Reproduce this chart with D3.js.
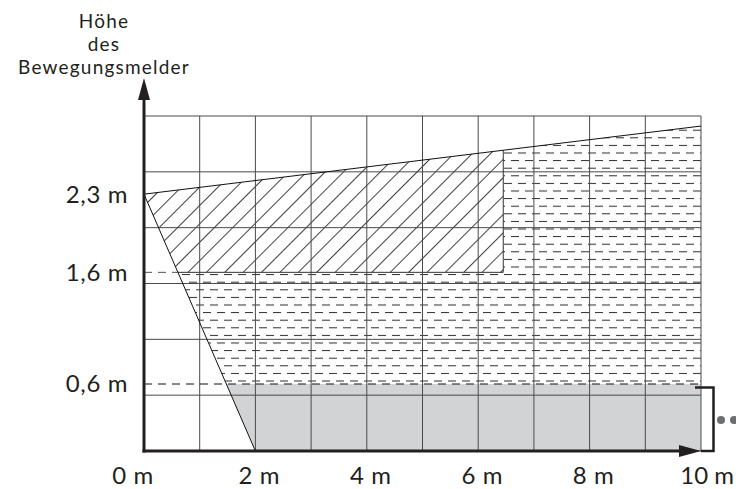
<!DOCTYPE html>
<html><head><meta charset="utf-8">
<script src="https://cdn.jsdelivr.net/npm/d3@7"></script>
<style>
body{margin:0;background:#fff}
text{font-family:Lato,"Open Sans",sans-serif;fill:#231f20}
</style>
</head><body><svg id="c" width="736" height="489"></svg>
<script>
// ---- data ----
const xTicks = [0, 2, 4, 6, 8, 10];
const xTickLabels = ["0 m", "2 m", "4 m", "6 m", "8 m", "10 m"];
const yTicks = [0.6, 1.6, 2.3];
const yTickLabels = ["0,6 m", "1,6 m", "2,3 m"];
const gridX = [0, 1, 2, 3, 4, 5, 6, 7, 8, 9, 10];
const gridY = [0, 0.5, 1, 1.5, 2, 2.5, 3];
const topEdge = [[0, 2.3], [10, 2.91]];   // upper limit of detection
const nearEdge = [[0, 2.3], [2, 0]];      // lower/near limit
const hatchRight = 6.45;                   // right edge of hatched zone (m)
const lowLevel = 0.6;                      // grey zone upper limit
const midLevel = 1.6;                      // hatched zone lower limit
const titleLines = ["Höhe", "des", "Bewegungsmelder"];

// ---- scales ----
const x = d3.scaleLinear().domain([0, 10]).range([144, 701]);
const y = d3.scaleLinear().domain([0, 3]).range([451, 116]);
const topAt = xv => topEdge[0][1] + (topEdge[1][1] - topEdge[0][1]) * (xv - topEdge[0][0]) / (topEdge[1][0] - topEdge[0][0]);
const nearAt = yv => nearEdge[0][0] + (nearEdge[1][0] - nearEdge[0][0]) * (yv - nearEdge[0][1]) / (nearEdge[1][1] - nearEdge[0][1]);

const svg = d3.select("#c");
const defs = svg.append("defs");

// hatch pattern
const hp = defs.append("pattern").attr("id", "hatch").attr("patternUnits", "userSpaceOnUse")
  .attr("width", 13).attr("height", 13).attr("patternTransform", "rotate(45)");
hp.append("line").attr("x1", 0.5).attr("y1", 0).attr("x2", 0.5).attr("y2", 13)
  .attr("stroke", "#2b2b2b").attr("stroke-width", 0.9);

// dash pattern
const rowGap = 7.6;
const dp = defs.append("pattern").attr("id", "dash").attr("patternUnits", "userSpaceOnUse")
  .attr("width", 14).attr("height", rowGap * 2).attr("x", 0).attr("y", y(lowLevel) - 3.5);
dp.append("rect").attr("x", 0).attr("y", 0).attr("width", 8).attr("height", 1).attr("fill", "#2b2b2b");
dp.append("rect").attr("x", 7).attr("y", rowGap).attr("width", 8).attr("height", 1).attr("fill", "#2b2b2b");
dp.append("rect").attr("x", -7).attr("y", rowGap).attr("width", 8).attr("height", 1).attr("fill", "#2b2b2b");

const line = d3.line().x(d => x(d[0])).y(d => y(d[1]));
const poly = pts => line(pts) + "Z";

// zones
const greyZone = [[nearAt(lowLevel), lowLevel], [10, lowLevel], [10, 0], [nearEdge[1][0], 0]];
const dashZone = [[nearAt(midLevel), midLevel], [hatchRight, midLevel], [hatchRight, topAt(hatchRight)],
  [10, topAt(10)], [10, lowLevel], [nearAt(lowLevel), lowLevel]];
const hatchZone = [[0, topAt(0)], [hatchRight, topAt(hatchRight)], [hatchRight, midLevel], [nearAt(midLevel), midLevel]];

svg.append("path").attr("d", poly(greyZone)).attr("fill", "#d1d3d4");
svg.append("path").attr("d", poly(dashZone)).attr("fill", "url(#dash)");
svg.append("path").attr("d", poly(hatchZone)).attr("fill", "url(#hatch)");

// grid
svg.append("g").selectAll("line").data(gridX).join("line")
  .attr("x1", d => x(d)).attr("x2", d => x(d)).attr("y1", y(3)).attr("y2", y(0))
  .attr("stroke", "#4a4a4a").attr("stroke-width", 1);
svg.append("g").selectAll("line").data(gridY).join("line")
  .attr("x1", x(0)).attr("x2", x(10)).attr("y1", d => y(d)).attr("y2", d => y(d))
  .attr("stroke", "#4a4a4a").attr("stroke-width", 1);

// level lines
svg.append("line").attr("x1", x(0)).attr("x2", x(10)).attr("y1", y(lowLevel)).attr("y2", y(lowLevel))
  .attr("stroke", "#111").attr("stroke-width", 1).attr("stroke-dasharray", "8,6");
svg.append("line").attr("x1", x(0)).attr("x2", x(nearAt(midLevel))).attr("y1", y(midLevel)).attr("y2", y(midLevel))
  .attr("stroke", "#555").attr("stroke-width", 1).attr("stroke-dasharray", "8,6");
svg.append("path").attr("d", line([[nearAt(midLevel), midLevel], [hatchRight, midLevel], [hatchRight, topAt(hatchRight)]]))
  .attr("fill", "none").attr("stroke", "#333").attr("stroke-width", 1);

// edges
svg.append("path").attr("d", line(topEdge)).attr("fill", "none").attr("stroke", "#111").attr("stroke-width", 1);
svg.append("path").attr("d", line(nearEdge)).attr("fill", "none").attr("stroke", "#111").attr("stroke-width", 1);

// axes
const axCol = "#231f20";
svg.append("line").attr("x1", x(0)).attr("x2", x(0)).attr("y1", y(0) + 1.5).attr("y2", 96)
  .attr("stroke", axCol).attr("stroke-width", 3);
svg.append("line").attr("x1", x(0) - 1.5).attr("x2", x(10) - 18).attr("y1", y(0)).attr("y2", y(0))
  .attr("stroke", axCol).attr("stroke-width", 3);
svg.append("path").attr("d", `M${x(0)},78 L${x(0) + 6},100 L${x(0) - 6},100Z`).attr("fill", axCol);
svg.append("path").attr("d", `M${x(10)},${y(0)} L${x(10) - 22},${y(0) - 6} L${x(10) - 22},${y(0) + 6}Z`).attr("fill", axCol);

// bracket
svg.append("path").attr("d", `M${x(10) - 6},${y(lowLevel) + 3.5} H${x(10) + 12.5} V${y(0)} H${x(10)}`)
  .attr("fill", "none").attr("stroke", axCol).attr("stroke-width", 2.5);
svg.append("g").selectAll("circle").data([0, 1]).join("circle")
  .attr("cx", d => x(10) + 20 + d * 13).attr("cy", 420).attr("r", 4).attr("fill", "#6d6e70");

// labels
svg.append("g").selectAll("text").data(xTicks).join("text")
  .attr("x", d => d === 10 ? 734 : x(d) + (d === 0 ? -11 : 4)).attr("y", 484)
  .attr("text-anchor", d => d === 10 ? "end" : "middle")
  .attr("font-size", 24).attr("letter-spacing", d => d === 10 ? 0 : 0.6)
  .text((d, i) => xTickLabels[i]);
svg.append("g").selectAll("text").data(yTicks).join("text")
  .attr("x", 128).attr("y", d => y(d)).attr("dy", "0.35em")
  .attr("text-anchor", "end").attr("font-size", 24).attr("letter-spacing", 0.6)
  .text((d, i) => yTickLabels[i]);
svg.append("g").selectAll("text").data(titleLines).join("text")
  .attr("x", 104).attr("y", (d, i) => [28, 51, 74][i])
  .attr("text-anchor", "middle").attr("font-size", 19).attr("letter-spacing", 1.2)
  .text(d => d);
</script>
</body></html>
